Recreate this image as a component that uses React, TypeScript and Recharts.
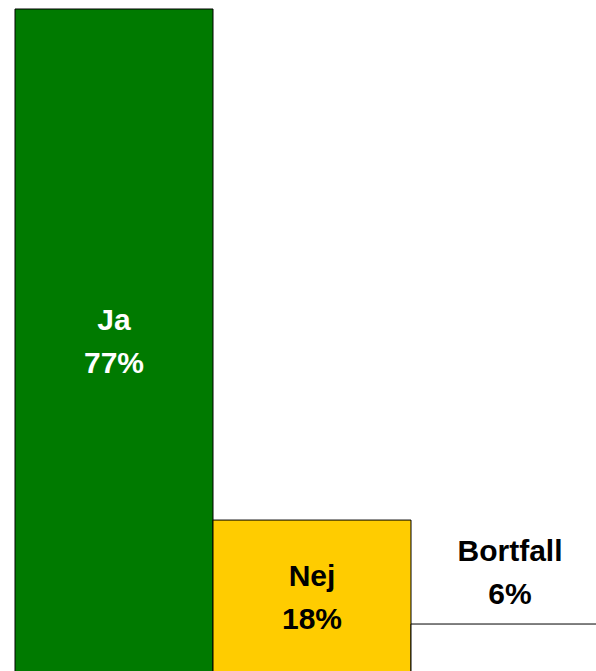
import React from 'react';
import { BarChart, Bar, XAxis, YAxis, Cell, LabelList } from 'recharts';

const categories = ['Ja', 'Nej', 'Bortfall'];
const values = [77, 18, 6];
const percentLabels = ['77%', '18%', '6%'];
const fills = ['#007A00', '#FFCC00', '#FFFFFF'];
const textColors = ['#FFFFFF', '#000000', '#000000'];

const data = categories.map((c, i) => ({ name: c, value: values[i], pct: percentLabels[i] }));

const renderLabel = (props: any) => {
  const { x, y, width, height, index } = props;
  const cx = x + width / 2;
  let y1: number;
  let y2: number;
  if (index === 2) {
    y1 = y - 63;
    y2 = y - 20;
  } else {
    const cy = y + height / 2;
    y1 = cy - 12.5;
    y2 = cy + 30.5;
  }
  return (
    <text
      textAnchor="middle"
      fontFamily="'Liberation Sans', Arial, sans-serif"
      fontWeight="bold"
      fontSize={30}
      fill={textColors[index]}
    >
      <tspan x={cx} y={y1}>{categories[index]}</tspan>
      <tspan x={cx} y={y2}>{percentLabels[index]}</tspan>
    </text>
  );
};

export default function App() {
  return (
    <div
      style={{
        position: 'fixed',
        left: 8,
        top: 8,
        width: 588,
        height: 663,
        overflow: 'hidden',
        background: '#fff',
      }}
    >
      <BarChart
        width={620}
        height={700}
        data={data}
        margin={{ top: 1, right: 19, bottom: 32, left: 7 }}
        barCategoryGap={0}
        barGap={0}
      >
        <XAxis dataKey="name" hide />
        <YAxis hide domain={[0, 77]} />
        <Bar dataKey="value" stroke="#000" strokeWidth={1} isAnimationActive={false}>
          {data.map((d, i) => (
            <Cell key={d.name} fill={fills[i]} />
          ))}
          <LabelList dataKey="pct" content={renderLabel} />
        </Bar>
      </BarChart>
    </div>
  );
}
